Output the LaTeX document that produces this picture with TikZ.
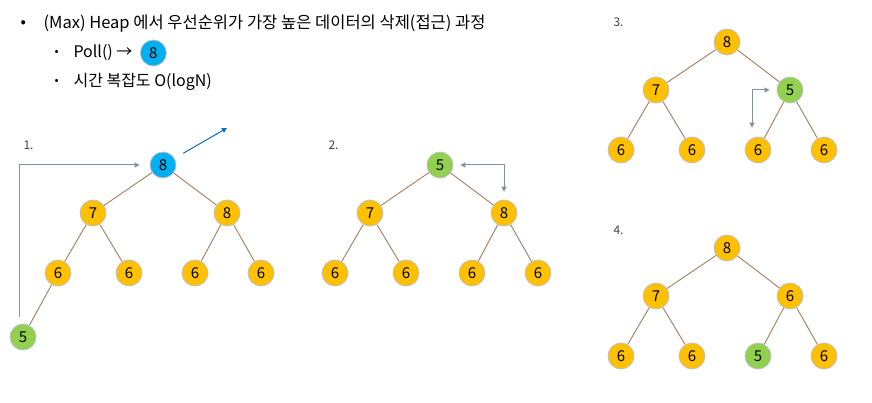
\documentclass[tikz,border=0pt]{standalone}
\usepackage{fontspec}
\setmainfont{Noto Sans CJK KR}
\definecolor{HeapGold}{HTML}{FFC000}
\definecolor{HeapGreen}{HTML}{92D050}
\definecolor{HeapBlue}{HTML}{00B0F0}
\definecolor{HeapEdge}{HTML}{A27C5E}
\definecolor{HeapRim}{HTML}{C0C0C0}
\definecolor{HeapArrow}{HTML}{7F93A2}
\definecolor{PollArrow}{HTML}{0A70C0}
\usetikzlibrary{arrows.meta,positioning,calc}

\tikzset{
  key/.style={circle, draw=HeapRim, line width=0.8pt, fill=HeapGold,
    minimum size=26pt, inner sep=0pt, font=\fontsize{15}{18}\selectfont},
  moved/.style={key, fill=HeapGreen},
  polled/.style={key, fill=HeapBlue},
  link/.style={draw=HeapEdge, line width=0.9pt},
  swap/.style={draw=HeapArrow, line width=1pt,
    {Triangle[length=5pt,width=5pt]}-{Triangle[length=5pt,width=5pt]}},
  lift/.style={draw=HeapArrow, line width=1pt, -{Triangle[length=5pt,width=5pt]}},
  pollout/.style={draw=PollArrow, line width=1pt, -{Triangle[length=5pt,width=5pt]}},
  steplabel/.style={anchor=west, font=\fontsize{12}{14}\selectfont, text=black!75},
  bullettext/.style={anchor=west, font=\fontsize{16}{19}\selectfont},
}

\begin{document}
\begin{tikzpicture}[x=1pt, y=-1pt]
  \useasboundingbox (0,0) rectangle (872,403);

  % header
  \node[bullettext] (dot1) at (17,24) {•};
  \node[bullettext, font=\fontsize{16.5}{19}\selectfont] (title) at (40,24) {(Max) Heap 에서 우선순위가 가장 높은 데이터의 삭제(접근) 과정};
  \node[bullettext, font=\fontsize{12}{14}\selectfont] (dot2) at (51,53) {•};
  \node[bullettext] (poll) at (70,53) {Poll() →};
  \node[polled, right=4pt of poll] (pollkey) {8};
  \node[bullettext, font=\fontsize{12}{14}\selectfont] (dot3) at (51,82) {•};
  \node[bullettext] (cost) at (70,82) {시간 복잡도 O(logN)};

  % step 1
  \node[steplabel] (s1) at (20,145) {1.};
  \begin{scope}[shift={(163,165)}]
    \node[polled] (t1-r) at (0,0) {8};
    \node[key] (t1-a) at (-70,48) {7};
    \node[key] (t1-b) at (64,48) {8};
    \node[key] (t1-aa) at (-105,108) {6};
    \node[key] (t1-ab) at (-34,108) {6};
    \node[key] (t1-ba) at (32,108) {6};
    \node[key] (t1-bb) at (98,108) {6};
    \node[moved] (t1-x) at (-140,172) {5};
  \end{scope}

  % step 2
  \node[steplabel] (s2) at (325,145) {2.};
  \begin{scope}[shift={(440,165)}]
    \node[moved] (t2-r) at (0,0) {5};
    \node[key] (t2-a) at (-70,48) {7};
    \node[key] (t2-b) at (64,48) {8};
    \node[key] (t2-aa) at (-105,108) {6};
    \node[key] (t2-ab) at (-34,108) {6};
    \node[key] (t2-ba) at (32,108) {6};
    \node[key] (t2-bb) at (98,108) {6};
  \end{scope}

  % step 3
  \node[steplabel] (s3) at (610,22) {3.};
  \begin{scope}[shift={(727,42)}]
    \node[key] (t3-r) at (0,0) {8};
    \node[key] (t3-a) at (-71,48) {7};
    \node[moved] (t3-b) at (63,48) {5};
    \node[key] (t3-aa) at (-106,108) {6};
    \node[key] (t3-ab) at (-35,108) {6};
    \node[key] (t3-ba) at (31,108) {6};
    \node[key] (t3-bb) at (97,108) {6};
  \end{scope}

  % step 4
  \node[steplabel] (s4) at (610,230) {4.};
  \begin{scope}[shift={(727,248)}]
    \node[key] (t4-r) at (0,0) {8};
    \node[key] (t4-a) at (-71,48) {7};
    \node[key] (t4-b) at (63,48) {6};
    \node[key] (t4-aa) at (-106,108) {6};
    \node[key] (t4-ab) at (-35,108) {6};
    \node[moved] (t4-ba) at (31,108) {5};
    \node[key] (t4-bb) at (97,108) {6};
  \end{scope}

  % tree edges
  \foreach \t in {t1,t2,t3,t4} {
    \draw[link] (\t-r) -- (\t-a);
    \draw[link] (\t-r) -- (\t-b);
    \draw[link] (\t-a) -- (\t-aa);
    \draw[link] (\t-a) -- (\t-ab);
    \draw[link] (\t-b) -- (\t-ba);
    \draw[link] (\t-b) -- (\t-bb);
  }
  \draw[link] (t1-aa) -- (t1-x);

  % moves
  \coordinate (t1-up) at ($(t1-x.north)+(-4,-7)$);
  \draw[lift, shorten >=10pt] (t1-up) |- (t1-r.west);
  \coordinate (t1-out) at (227,128);
  \draw[pollout, shorten <=10pt] (t1-r) -- (t1-out);
  \draw[swap, shorten <=7pt, shorten >=8pt] (t2-r.east) -| (t2-b.north);
  \draw[swap, shorten <=7pt, shorten >=9pt] (t3-b.west) -| ([xshift=-6pt]t3-ba.north);
\end{tikzpicture}
\end{document}
